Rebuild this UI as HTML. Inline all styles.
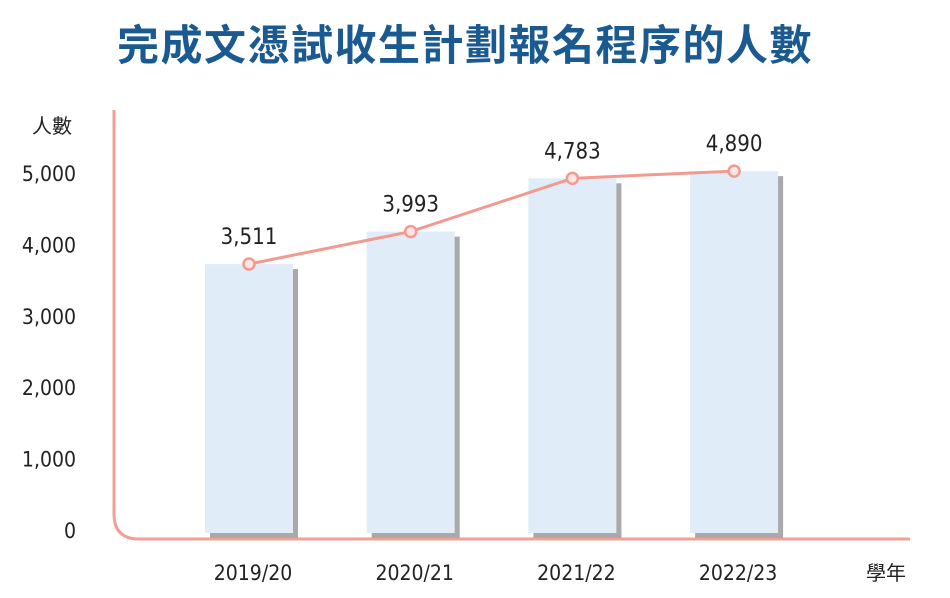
<!DOCTYPE html>
<html><head><meta charset="utf-8">
<style>
html,body{margin:0;padding:0;background:#fff;}
body{width:950px;height:598px;overflow:hidden;font-family:"Liberation Sans","Noto Sans CJK TC",sans-serif;}
#title{position:absolute;left:0;top:12px;width:930px;text-align:center;font-size:42px;font-weight:bold;color:#1b5a90;font-family:"Noto Sans CJK TC","WenQuanYi Zen Hei",sans-serif;letter-spacing:1.5px;margin:0}
svg{position:absolute;left:0;top:0}
svg text{font-family:"Liberation Sans Narrow","DejaVu Sans Condensed","Liberation Sans","Noto Sans CJK TC",sans-serif;fill:#222;}
</style></head><body>
<h1 id="title">完成文憑試收生計劃報名程序的人數</h1>
<svg id="chart" width="950" height="598"></svg>
<script>
const categories = ["2019/20","2020/21","2021/22","2022/23"];
const values = [3511,3993,4783,4890];
const valueLabels = ["3,511","3,993","4,783","4,890"];
const tickValues = [0,1000,2000,3000,4000,5000];
const tickLabels = ["0","1,000","2,000","3,000","4,000","5,000"];

const NS="http://www.w3.org/2000/svg";
const svg=document.getElementById('chart');
function mk(tag,attrs,parent){const e=document.createElementNS(NS,tag);for(const k in attrs)e.setAttribute(k,attrs[k]);(parent||svg).appendChild(e);return e;}
const tickY=v=>530-v*0.0714;
const markY=v=>500.7-v*0.0674;
const xCenter=i=>249+i*161.7;
const barW=88, barBottom=533;

let ax=mk('path',{d:"M114,110 L114,514 Q114,539 139,539 L910,539",fill:"none",stroke:"#f59e95","stroke-width":3});



let yt=mk('text',{x:32,y:133,"font-size":20});yt.textContent="人數";


let xt=mk('text',{x:866,y:580,"font-size":20});xt.textContent="學年";



tickValues.forEach((v,i)=>{
  const t=mk('text',{x:76,y:tickY(v)+8,"font-size":21,"text-anchor":"end"});
  t.textContent=tickLabels[i];
  
  
});

categories.forEach((c,i)=>{
  const x=xCenter(i)-barW/2, top=markY(values[i]);
  const sh=mk('rect',{x:x+5,y:top+5,width:barW,height:barBottom-top,fill:"#a9a9a9"});
  
  
  const b=mk('rect',{x:x,y:top,width:barW,height:barBottom-top,fill:"#e0edf8"});
  
  
  const t=mk('text',{x:xCenter(i)+4,y:580,"font-size":21,"text-anchor":"middle"});
  t.textContent=c;
  
  
});

const pts=values.map((v,i)=>xCenter(i)+','+markY(v)).join(' ');
const ln=mk('polyline',{points:pts,fill:"none",stroke:"#f39a90","stroke-width":3});


values.forEach((v,i)=>{
  const p=mk('circle',{cx:xCenter(i),cy:markY(v),r:5.5,fill:"#fde6e3",stroke:"#f39a90","stroke-width":2.5});
  
  
  const t=mk('text',{x:xCenter(i),y:markY(v)-20,"font-size":22,"text-anchor":"middle"});
  t.textContent=valueLabels[i];
  
  
});
</script>
</body></html>
